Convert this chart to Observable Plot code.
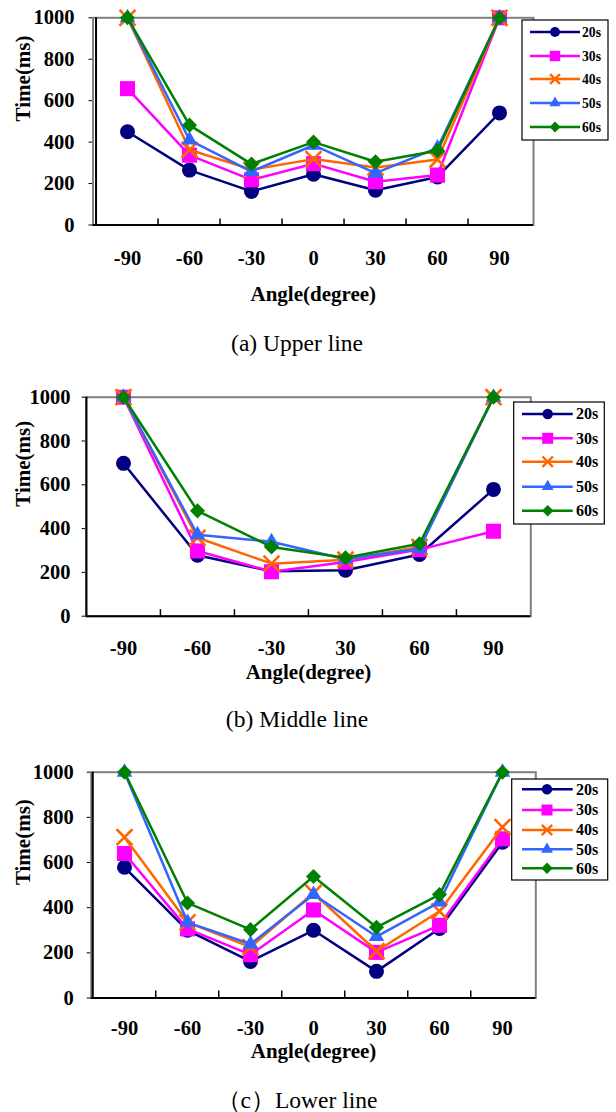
<!DOCTYPE html>
<html><head><meta charset="utf-8">
<script src="https://cdn.jsdelivr.net/npm/d3@7"></script>
<script src="https://cdn.jsdelivr.net/npm/@observablehq/plot@0.6"></script>
<style>
body{margin:0;background:#fff;}
#root{position:relative;width:616px;height:1112px;overflow:hidden;background:#fff;}
.panel{position:absolute;left:0;}
.caption{position:absolute;left:0;width:594px;text-align:center;font-family:'Liberation Serif','Times New Roman','DejaVu Serif',serif;font-size:23.5px;line-height:1;white-space:nowrap;color:#000;}
#overlay{position:absolute;left:0;top:0;pointer-events:none;}
svg text{font-family:'Liberation Serif','Times New Roman','DejaVu Serif',serif;}
</style></head><body><div id="root"></div>
<script>
// ---------- data ----------
const seriesNames = ["20s", "30s", "40s", "50s", "60s"];
const seriesColors = ["#000080", "#FF00FF", "#FF6600", "#3366FF", "#008000"];
const yTickValues = [0, 200, 400, 600, 800, 1000];

// (a) Upper line
const upperAngles = ["-90", "-60", "-30", "0", "30", "60", "90"];
const upper20s = [450, 265, 162, 245, 168, 232, 541];
const upper30s = [658, 337, 218, 296, 209, 241, 1000];
const upper40s = [1000, 363, 267, 318, 278, 316, 1000];
const upper50s = [1000, 410, 258, 385, 250, 372, 1000];
const upper60s = [1000, 482, 294, 400, 305, 358, 1000];

// (b) Middle line
const middleAngles = ["-90", "-60", "-30", "30", "60", "90"];
const middle20s = [698, 278, 205, 210, 282, 579];
const middle30s = [1000, 298, 203, 247, 304, 388];
const middle40s = [1000, 358, 240, 258, 316, 1000];
const middle50s = [1000, 372, 340, 260, 308, 1000];
const middle60s = [1000, 481, 316, 267, 331, 1000];

// (c) Lower line
const lowerAngles = ["-90", "-60", "-30", "0", "30", "60", "90"];
const lower20s = [579, 300, 162, 300, 118, 308, 690];
const lower30s = [640, 306, 192, 390, 202, 322, 705];
const lower40s = [712, 335, 225, 465, 207, 384, 757];
const lower50s = [1000, 335, 239, 458, 272, 425, 1000];
const lower60s = [1000, 421, 303, 538, 313, 458, 1000];

const captions = ["(a) Upper line", "(b) Middle line", "\uFF08c\uFF09Lower line"];

// ---------- styles ----------
const FONT = "'Liberation Serif','Times New Roman','DejaVu Serif',serif";
const symbols = [d3.symbolCircle, d3.symbolSquare, d3.symbolTimes, d3.symbolTriangle, d3.symbolDiamond2];
const plotR = [7.5, 8.5, 7.3, 5.8, 6.8];
const legendR = [5.2, 6.2, 4.8, 4.4, 5.2];

function toRows(cats, vals) {
  return cats.map((a, i) => ({angle: a, time: vals[i]}));
}

function makePanel(cfg) {
  const W = 616;
  const innerW = W - cfg.mL - cfg.mR;
  const innerH = cfg.height - cfg.mT - cfg.mB;
  const step = innerW / cfg.cats.length;
  const marks = [
    Plot.frame({stroke: "#808080", strokeWidth: 2}),
    Plot.ruleY([0], {stroke: "#000", strokeWidth: 2}),
    Plot.ruleX([cfg.cats[0]], {dx: -step / 2, stroke: "#000", strokeWidth: 2}),
    Plot.ruleX(cfg.cats.slice(1), {dx: -step / 2, stroke: "#000", strokeWidth: 1.5, insetTop: innerH - cfg.tickLen}),
    Plot.text(["Angle(degree)"], {text: d => d, frameAnchor: "bottom", dy: cfg.xTitleDy, fontSize: 21, fontWeight: "bold", fill: "#000"}),
    Plot.text(["Time(ms)"], {text: d => d, frameAnchor: "left", dx: 22.4 - cfg.mL, rotate: -90, fontSize: 21, fontWeight: "bold", fill: "#000"})
  ];
  cfg.series.forEach((vals, i) => {
    const rows = toRows(cfg.cats, vals);
    marks.push(Plot.line(rows, {x: "angle", y: "time", stroke: seriesColors[i], strokeWidth: 2.5}));
    const isStroke = symbols[i] === d3.symbolTimes;
    marks.push(Plot.dot(rows, {
      x: "angle", y: "time", symbol: symbols[i], r: plotR[i],
      fill: isStroke ? "none" : seriesColors[i],
      stroke: isStroke ? seriesColors[i] : "none",
      strokeWidth: isStroke ? 2.6 : 0
    }));
  });
  const svg = Plot.plot({
    width: W, height: cfg.height,
    marginLeft: cfg.mL, marginRight: cfg.mR, marginTop: cfg.mT, marginBottom: cfg.mB,
    style: {fontFamily: FONT, fontSize: "20.5px", fontWeight: "bold", color: "#000", background: "transparent", overflow: "visible"},
    x: {type: "point", domain: cfg.cats, padding: 0.5, tickSize: 0, tickPadding: cfg.xTickPad, label: null},
    y: {domain: [0, 1000], ticks: yTickValues, tickSize: 4, tickPadding: cfg.yTickPad, tickFormat: d => String(d), label: null},
    marks
  });
  svg.classList.add("panel");
  svg.style.top = cfg.top + "px";
  return svg;
}

const root = document.getElementById("root");

const panels = [
  {cats: upperAngles, series: [upper20s, upper30s, upper40s, upper50s, upper60s],
   top: 0, height: 320, mL: 92.5, mR: 83, mT: 17.3, mB: 320 - 224.5,
   tickLen: 6, xTickPad: 25, yTickPad: 14.5, xTitleDy: 76},
  {cats: middleAngles, series: [middle20s, middle30s, middle40s, middle50s, middle60s],
   top: 350, height: 350, mL: 85.6, mR: 85.7, mT: 46.7, mB: 350 - 265.7,
   tickLen: 6.5, xTickPad: 24, yTickPad: 11.7, xTitleDy: 63},
  {cats: lowerAngles, series: [lower20s, lower30s, lower40s, lower50s, lower60s],
   top: 740, height: 340, mL: 90.7, mR: 80.7, mT: 31.7, mB: 340 - 257.5,
   tickLen: 7, xTickPad: 22, yTickPad: 13.4, xTitleDy: 59.5}
];
panels.forEach(p => root.appendChild(makePanel(p)));

// captions (below each chart)
const captionBaselines = [351.5, 728, 1108.3];
captions.forEach((c, i) => {
  const d = document.createElement("div");
  d.className = "caption";
  d.textContent = c;
  d.style.top = (captionBaselines[i] - 0.8375 * 23.5) + "px";
  root.appendChild(d);
});

// legends
const legends = [
  {box: [522, 20, 608, 140], ys: [32, 56, 79, 103, 127], lx: [530, 580], mx: 555, tx: 582, fs: 13.7, k: 0.95},
  {box: [513.7, 402, 604.3, 524], ys: [414, 438.3, 461.7, 486.7, 510.7], lx: [522, 572.7], mx: 547.7, tx: 576, fs: 16, k: 1},
  {box: [511.7, 779, 607.7, 880], ys: [789.3, 810, 830, 849.3, 868.3], lx: [522, 572.7], mx: 547, tx: 576, fs: 16, k: 1}
];
const ov = d3.select(root).append("svg").attr("id", "overlay").attr("width", 616).attr("height", 1112);
legends.forEach(L => {
  const g = ov.append("g");
  g.append("rect").attr("x", L.box[0]).attr("y", L.box[1])
    .attr("width", L.box[2] - L.box[0]).attr("height", L.box[3] - L.box[1])
    .attr("fill", "#fff").attr("stroke", "#000").attr("stroke-width", 1.2);
  seriesNames.forEach((name, i) => {
    const y = L.ys[i];
    g.append("line").attr("x1", L.lx[0]).attr("x2", L.lx[1]).attr("y1", y).attr("y2", y)
      .attr("stroke", seriesColors[i]).attr("stroke-width", 2.5);
    const r = legendR[i] * L.k;
    const isStroke = symbols[i] === d3.symbolTimes;
    g.append("path").attr("d", d3.symbol(symbols[i], Math.PI * r * r)())
      .attr("transform", `translate(${L.mx},${y})`)
      .attr("fill", isStroke ? "none" : seriesColors[i])
      .attr("stroke", isStroke ? seriesColors[i] : "none")
      .attr("stroke-width", isStroke ? 2.4 : 0);
    g.append("text").attr("x", L.tx).attr("y", y).attr("dy", "0.34em")
      .attr("font-weight", "bold").attr("font-size", L.fs)
      .attr("fill", "#000").text(name);
  });
});
</script>
</body></html>
